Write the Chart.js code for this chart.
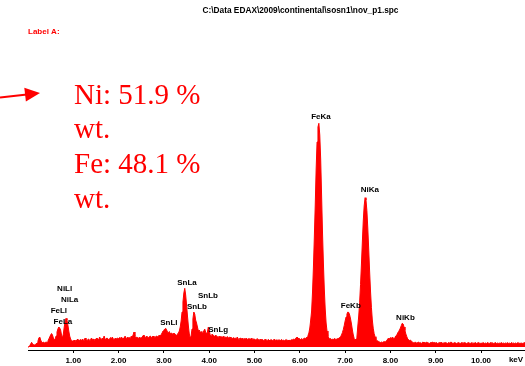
<!DOCTYPE html>
<html>
<head>
<meta charset="utf-8">
<script src="https://cdn.jsdelivr.net/npm/chart.js@4/dist/chart.umd.min.js"></script>
<style>
html,body{margin:0;padding:0;background:#fff;}
canvas{display:block;}
</style>
</head>
<body>
<canvas id="c" width="525" height="366"></canvas>
<script>
// Energy calibration of the spectrum channels
const startKeV = 0;
const channelKeV = 0.02;

// Counts per channel, one row = 25 channels (0.5 keV)
const counts = [
  0, 5, 15, 30, 47, 30, 25, 20, 25, 30, 40, 60, 90, 100, 70, 50, 45, 50, 40, 45, 50, 45, 60, 80, 100,
  120, 135, 120, 90, 70, 80, 110, 150, 180, 200, 190, 170, 120, 90, 130, 200, 260, 287, 270, 220, 160, 110, 80, 65, 60,
  60, 70, 55, 70, 65, 80, 60, 70, 75, 60, 80, 70, 65, 90, 70, 60, 75, 80, 65, 70, 90, 75, 80, 65, 80,
  75, 90, 80, 70, 100, 85, 75, 90, 80, 110, 80, 75, 90, 85, 70, 80, 95, 80, 100, 85, 75, 90, 80, 85, 90,
  80, 95, 85, 100, 90, 80, 95, 110, 90, 85, 100, 90, 95, 85, 110, 100, 120, 150, 110, 90, 100, 95, 85, 100, 90,
  90, 100, 115, 120, 100, 95, 110, 100, 90, 105, 110, 95, 100, 110, 100, 95, 105, 110, 100, 110, 120, 110, 125, 140, 160,
  170, 180, 187, 170, 150, 140, 155, 130, 140, 135, 120, 140, 130, 125, 110, 130, 140, 160, 200, 260, 350, 450, 540, 587, 520,
  420, 310, 210, 130, 90, 110, 180, 280, 350, 330, 270, 240, 200, 160, 170, 140, 155, 130, 140, 160, 180, 150, 130, 150, 200,
  170, 120, 110, 130, 120, 115, 100, 120, 110, 105, 95, 110, 100, 105, 90, 100, 110, 95, 100, 90, 105, 90, 95, 100, 85,
  90, 85, 95, 80, 90, 85, 100, 80, 75, 90, 85, 80, 90, 75, 85, 80, 90, 75, 80, 85, 70, 80, 90, 75, 80,
  80, 70, 75, 85, 70, 75, 65, 80, 70, 75, 65, 70, 80, 70, 65, 75, 70, 60, 75, 70, 65, 70, 80, 65, 70,
  70, 65, 75, 60, 70, 75, 65, 70, 60, 70, 75, 65, 70, 60, 70, 65, 75, 70, 80, 75, 85, 90, 100, 90, 80,
  80, 70, 85, 75, 80, 90, 85, 90, 100, 115, 140, 190, 270, 360, 550, 800, 1100, 1420, 1780, 2050, 2200, 2237, 2120, 1880, 1520,
  1150, 840, 580, 380, 240, 160, 110, 90, 80, 85, 75, 80, 70, 85, 80, 75, 85, 80, 90, 95, 105, 120, 145, 175, 215,
  260, 300, 330, 350, 345, 320, 280, 230, 170, 120, 85, 70, 80, 100, 210, 310, 447, 625, 830, 1050, 1260, 1410, 1493, 1470, 1365,
  1190, 980, 760, 560, 397, 270, 188, 134, 103, 80, 65, 60, 55, 50, 45, 50, 45, 50, 55, 50, 60, 65, 80, 90, 80,
  95, 80, 100, 90, 85, 100, 110, 120, 140, 155, 170, 190, 215, 237, 230, 200, 165, 130, 105, 80, 75, 65, 70, 60, 50,
  45, 40, 50, 45, 40, 45, 50, 40, 45, 35, 45, 50, 40, 45, 40, 50, 45, 40, 35, 45, 40, 50, 45, 40, 45,
  40, 45, 35, 40, 45, 40, 50, 40, 35, 45, 40, 45, 40, 35, 45, 40, 45, 50, 40, 35, 40, 45, 40, 35, 40,
  45, 40, 35, 40, 45, 35, 40, 45, 40, 35, 40, 45, 40, 35, 40, 45, 35, 40, 40, 45, 35, 40, 45, 40, 35,
  40, 35, 45, 40, 35, 40, 35, 45, 40, 35, 40, 45, 35, 40, 35, 40, 45, 35, 40, 35, 40, 35, 45, 40, 35,
  40, 35, 40, 35, 45, 35, 40, 35, 40, 45, 35, 40, 35, 40, 35, 40, 45, 35, 40, 35, 40, 35, 40, 45, 35
];

// Energy axis ticks (keV)
const tickValues = [1, 2, 3, 4, 5, 6, 7, 8, 9, 10];

// Identified emission lines
const lineNames = ['FeLl', 'FeLa', 'NiLl', 'NiLa', 'SnLl', 'SnLa', 'SnLb', 'SnLb', 'SnLg', 'FeKa', 'FeKb', 'NiKa', 'NiKb'];
const lineEnergies = [0.615, 0.705, 0.743, 0.851, 3.044, 3.444, 3.663, 3.905, 4.131, 6.400, 7.058, 7.478, 8.265];

// Header and quantification texts
const fileName = 'C:\\Data EDAX\\2009\\continental\\sosn1\\nov_p1.spc';
const labelText = 'Label A:';
const resultLines = ['Ni: 51.9 %', 'wt.', 'Fe: 48.1 %', 'wt.'];
const unitText = 'keV';

const points = counts.map((c, i) => ({ x: startKeV + i * channelKeV, y: c }));

const SANS = '"Liberation Sans", Arial, sans-serif';

const annotate = {
  id: 'annotate',
  afterDraw(chart, args, opts) {
    const ctx = chart.ctx;
    const xs = chart.scales.x, ys = chart.scales.y;
    ctx.save();

    // line identifiers above the peaks
    ctx.fillStyle = '#000';
    ctx.font = 'bold 8px ' + SANS;
    ctx.textAlign = 'center';
    ctx.textBaseline = 'middle';
    lineNames.forEach((n, i) => {
      ctx.fillText(n, xs.getPixelForValue(lineEnergies[i]) + 3, ys.getPixelForValue(opts.levels[i]));
    });

    // axis unit
    ctx.fillText(unitText, 516, 360);

    // file path header
    ctx.font = 'bold 8.3px ' + SANS;
    ctx.fillText(fileName, 300.5, 11);

    // label
    ctx.fillStyle = '#ff0000';
    ctx.font = 'bold 8px ' + SANS;
    ctx.textAlign = 'left';
    ctx.fillText(labelText, 28, 31.5);

    // arrow
    ctx.strokeStyle = '#ff0000';
    ctx.lineWidth = 2;
    ctx.beginPath();
    ctx.moveTo(0, 97.5);
    ctx.lineTo(27, 94.5);
    ctx.stroke();
    ctx.beginPath();
    ctx.moveTo(40, 93);
    ctx.lineTo(24.3, 87.7);
    ctx.lineTo(25.9, 101.6);
    ctx.closePath();
    ctx.fill();

    // composition result
    ctx.font = '29px "Liberation Serif", "Times New Roman", serif';
    ctx.textBaseline = 'alphabetic';
    resultLines.forEach((t, i) => ctx.fillText(t, 74, 103.5 + i * 34.7));

    ctx.restore();
  }
};

new Chart(document.getElementById('c'), {
  type: 'line',
  data: {
    datasets: [{
      data: points,
      fill: 'origin',
      backgroundColor: '#ff0000',
      borderColor: '#ff0000',
      borderWidth: 1,
      pointRadius: 0,
      tension: 0
    }]
  },
  options: {
    responsive: false,
    animation: false,
    devicePixelRatio: 1,
    layout: { padding: { left: 28, right: 0, top: 100, bottom: 0 } },
    plugins: {
      legend: { display: false },
      tooltip: { enabled: false },
      annotate: { levels: [363, 253, 580, 470, 247, 643, 403, 513, 177, 2300, 413, 1570, 297] }
    },
    scales: {
      x: {
        type: 'linear',
        min: 0,
        max: 10.97,
        afterBuildTicks: s => { s.ticks = tickValues.map(v => ({ value: v })); },
        afterFit: s => { s.height = 16; },
        border: { display: true, color: '#000', width: 1 },
        grid: { display: true, drawOnChartArea: false, drawTicks: true, tickLength: 3, tickColor: '#000' },
        ticks: {
          autoSkip: false,
          maxRotation: 0,
          padding: 3,
          color: '#000',
          font: { family: 'Liberation Sans', size: 8, weight: 'bold' },
          callback: v => Number(v).toFixed(2)
        }
      },
      y: {
        display: false,
        min: -30,
        max: 2470
      }
    }
  },
  plugins: [annotate]
});
</script>
</body>
</html>
